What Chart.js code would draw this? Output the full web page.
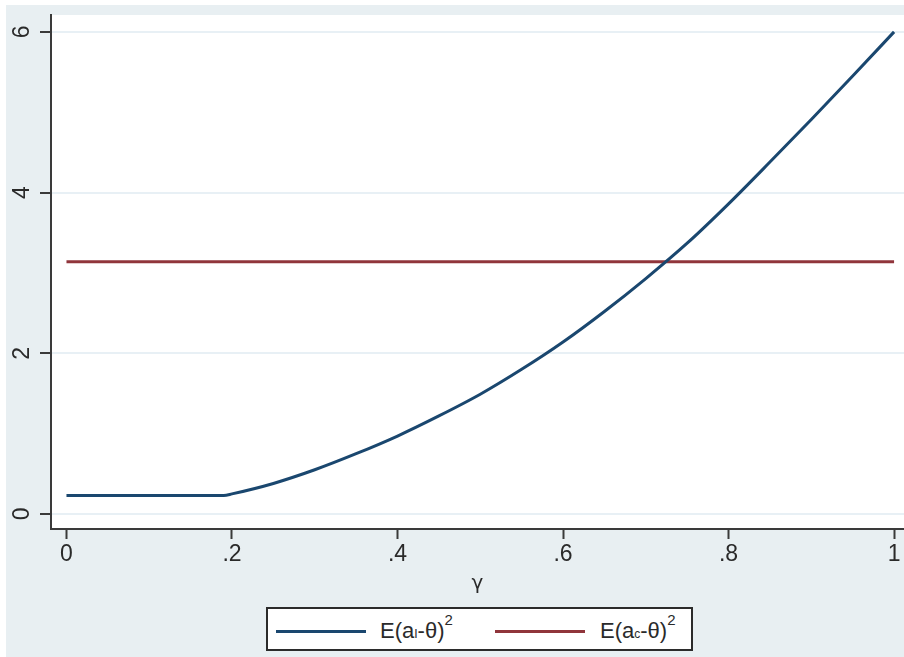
<!DOCTYPE html>
<html>
<head>
<meta charset="utf-8">
<script src="https://cdn.jsdelivr.net/npm/chart.js@4.4.1/dist/chart.umd.min.js"></script>
<style>
  html, body { margin: 0; padding: 0; background: #ffffff; }
  body { width: 904px; height: 657px; position: relative; overflow: hidden; font-family: "Liberation Sans", Arial, sans-serif; }
  #wrap { position: absolute; left: 6px; top: 5px; width: 898px; height: 652px; }
  #legend { position: absolute; left: 266px; top: 607px; width: 427px; height: 44px; box-sizing: border-box; border: 2px solid #2b2b2b; background: #ffffff; }
  .sample { position: absolute; height: 3px; width: 90px; top: 21px; }
  .ltext { position: absolute; top: 11px; font-size: 22px; line-height: 22px; color: #2a2a2a; white-space: nowrap; }
  .sub { font-size: 12px; }
  .sup { font-size: 15px; position: relative; top: -13px; }
</style>
</head>
<body>
<div id="wrap"><canvas id="c" width="898" height="652"></canvas></div>
<div id="legend">
  <div class="sample" style="left:8px;background:#1a476f;"></div>
  <div class="ltext" style="left:112px;">E(a<span class="sub">I</span>-θ)<span class="sup">2</span></div>
  <div class="sample" style="left:227px;background:#90353b;"></div>
  <div class="ltext" style="left:332px;">E(a<span class="sub">c</span>-θ)<span class="sup">2</span></div>
</div>
<script>
// ---- data ----
const gammaValues = [0, 0.05, 0.10, 0.15, 0.19, 0.20, 0.25, 0.30, 0.35, 0.40, 0.45, 0.50, 0.55, 0.60, 0.65, 0.70, 0.75, 0.80, 0.85, 0.90, 0.95, 1.00];
const errorIndividual = [0.23, 0.23, 0.23, 0.23, 0.23, 0.25, 0.38, 0.55, 0.75, 0.97, 1.22, 1.49, 1.80, 2.14, 2.52, 2.93, 3.37, 3.86, 4.38, 4.91, 5.45, 6.00];
const gammaCommon = [0, 1];
const errorCommon = [3.14, 3.14];
const xTickValues = [0, 0.2, 0.4, 0.6, 0.8, 1];
const xTickLabels = ['0', '.2', '.4', '.6', '.8', '1'];
const yTickValues = [0, 2, 4, 6];
const yTickLabels = ['0', '2', '4', '6'];
const seriesNames = ['E(aI-θ)²', 'E(ac-θ)²'];

const blueColor = '#1a476f';
const redColor = '#90353b';
const axisColor = '#3a3a3a';
const textColor = '#2a2a2a';

const bgPlugin = {
  id: 'bg',
  beforeDraw(chart) {
    const { ctx, chartArea } = chart;
    ctx.save();
    ctx.fillStyle = '#e8eff2';
    ctx.fillRect(0, 0, chart.width, chart.height);
    ctx.fillStyle = '#ffffff';
    ctx.fillRect(chartArea.left, chartArea.top, chartArea.right - chartArea.left, chartArea.bottom - chartArea.top);
    ctx.restore();
  }
};

const yLabelPlugin = {
  id: 'ylabels',
  afterDraw(chart) {
    const { ctx } = chart;
    const ys = chart.scales.y;
    ctx.save();
    ctx.fillStyle = textColor;
    ctx.font = '23px "Liberation Sans", Arial, sans-serif';
    ctx.textAlign = 'center';
    ctx.textBaseline = 'middle';
    yTickValues.forEach((v, i) => {
      const py = ys.getPixelForValue(v);
      ctx.save();
      ctx.translate(17, py);
      ctx.rotate(-Math.PI / 2);
      ctx.fillText(yTickLabels[i], 0, 0);
      ctx.restore();
    });
    ctx.restore();
  }
};

new Chart(document.getElementById('c'), {
  type: 'line',
  data: {
    datasets: [
      {
        label: seriesNames[0],
        data: gammaValues.map((g, i) => ({ x: g, y: errorIndividual[i] })),
        borderColor: blueColor,
        borderWidth: 3,
        pointRadius: 0,
        cubicInterpolationMode: 'monotone',
        fill: false
      },
      {
        label: seriesNames[1],
        data: gammaCommon.map((g, i) => ({ x: g, y: errorCommon[i] })),
        borderColor: redColor,
        borderWidth: 3,
        pointRadius: 0,
        fill: false
      }
    ]
  },
  options: {
    responsive: false,
    animation: false,
    devicePixelRatio: 1,
    layout: { padding: { top: 10, right: 0, left: 0, bottom: 0 } },
    plugins: { legend: { display: false }, tooltip: { enabled: false }, title: { display: false } },
    scales: {
      x: {
        type: 'linear',
        min: -0.0187,
        max: 1.012,
        afterBuildTicks(scale) { scale.ticks = xTickValues.map(v => ({ value: v })); },
        afterFit(scale) { scale.height = 128; },
        ticks: {
          callback(value) { const i = xTickValues.indexOf(value); return i >= 0 ? xTickLabels[i] : ''; },
          color: textColor,
          font: { family: '"Liberation Sans", Arial, sans-serif', size: 23 },
          padding: 2,
          maxRotation: 0,
          autoSkip: false
        },
        grid: { drawOnChartArea: false, drawTicks: true, tickLength: 10, tickColor: axisColor, tickWidth: 2 },
        border: { display: true, color: axisColor, width: 2 },
        title: {
          display: true,
          text: 'γ',
          color: textColor,
          font: { family: '"DejaVu Sans", sans-serif', size: 20 },
          padding: { top: 0, bottom: 61 }
        }
      },
      y: {
        type: 'linear',
        min: -0.187,
        max: 6.21,
        afterBuildTicks(scale) { scale.ticks = yTickValues.map(v => ({ value: v })); },
        afterFit(scale) { scale.width = 45; },
        ticks: { display: false },
        grid: { drawOnChartArea: true, color: '#e8f0f5', lineWidth: 2, drawTicks: true, tickLength: 11, tickColor: axisColor, tickWidth: 2 },
        border: { display: true, color: axisColor, width: 2 }
      }
    }
  },
  plugins: [bgPlugin, yLabelPlugin]
});
</script>
</body>
</html>
